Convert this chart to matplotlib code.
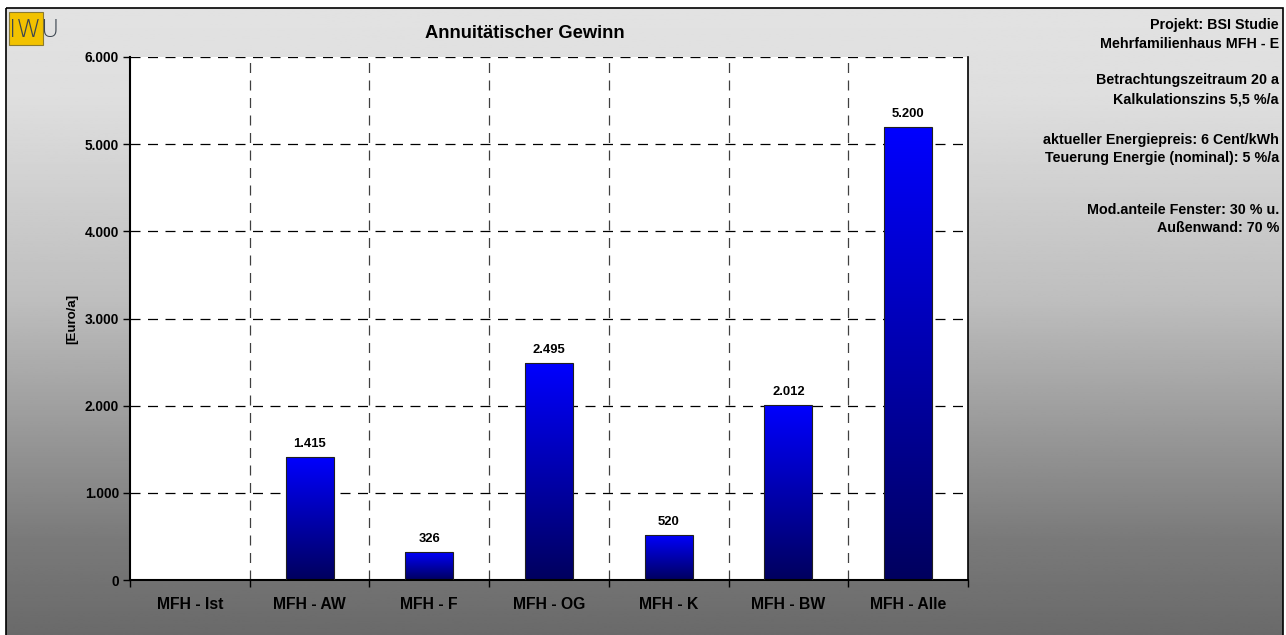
import numpy as np
import matplotlib
matplotlib.use("Agg")
import matplotlib.pyplot as plt
from matplotlib.patches import Rectangle
from matplotlib.colors import LinearSegmentedColormap

categories = ["MFH - Ist", "MFH - AW", "MFH - F", "MFH - OG", "MFH - K", "MFH - BW", "MFH - Alle"]
values = [0, 1415, 326, 2495, 520, 2012, 5200]
yticks = [0, 1000, 2000, 3000, 4000, 5000, 6000]
info_lines = [
    ("Projekt: BSI Studie", 25),
    ("Mehrfamilienhaus MFH - E", 44),
    ("Betrachtungszeitraum 20 a", 80),
    ("Kalkulationszins 5,5 %/a", 99),
    ("aktueller Energiepreis: 6 Cent/kWh", 140),
    ("Teuerung Energie (nominal): 5 %/a", 158),
    ("Mod.anteile Fenster: 30 % u.", 210),
    ("Außenwand: 70 %", 228),
]

plt.rcParams['font.family'] = ['Liberation Sans', 'DejaVu Sans']

W, H = 1286, 635
fig = plt.figure(figsize=(W / 100, H / 100), dpi=100)
fig.patch.set_facecolor("white")

# background gradient inside the frame
bg = fig.add_axes([0, 0, 1, 1], zorder=0)
bg.set_xlim(0, W)
bg.set_ylim(H, 0)
bg.axis("off")
ys = np.linspace(8, H, 300)
stops_y = [8, 100, 300, 540, 635]
stops_v = [226, 222, 190, 122, 106]
grey = np.interp(ys, stops_y, stops_v) / 255.0
grad = np.repeat(grey[:, None], 2, axis=1)
bg.imshow(grad, cmap="gray", vmin=0, vmax=1, extent=(6, 1283, H, 8), aspect="auto")
bg.add_patch(Rectangle((6, 8), 1277, H, fill=False, edgecolor="black", lw=1.2))

# IWU logo
bg.add_patch(Rectangle((9, 12), 34, 33, facecolor="#f2c200", edgecolor="#8a7a30", lw=0.8))
bg.text(9.5, 30, "IWU", fontsize=18, color="#3c4650", va="center", ha="left",
        family="DejaVu Sans", fontweight="light")

# title and info text
bg.text(525, 33, "Annuitätischer Gewinn", fontsize=13.2, fontweight="bold", ha="center", va="center")
for txt, yy in info_lines:
    bg.text(1279, yy, txt, fontsize=10.3, fontweight="bold", ha="right", va="center")

# main axes
ax = fig.add_axes([130 / W, 1 - 580 / H, (968 - 130) / W, (580 - 57) / H], zorder=1)
ax.set_facecolor("white")
x = np.arange(len(categories))
bars = ax.bar(x, values, width=0.4, color="none", edgecolor="#202020", lw=0.8, zorder=3)

cmap = LinearSegmentedColormap.from_list("bluegrad", ["#00005e", "#0000ff"])
grad_bar = np.linspace(0, 1, 256)[:, None]
for b in bars:
    if b.get_height() <= 0:
        continue
    x0 = b.get_x()
    im = ax.imshow(grad_bar, cmap=cmap, origin="lower", aspect="auto",
                   extent=(x0, x0 + b.get_width(), 0, b.get_height()), zorder=2)
    im.set_clip_path(b)

for xi, v in zip(x, values):
    if v > 0:
        ax.text(xi, v + 80, f"{v:,.0f}".replace(",", "."), ha="center", va="bottom",
                fontsize=9.4, fontweight="bold")

ax.set_xlim(-0.5, len(categories) - 0.5)
ax.set_ylim(0, 6000)

ax.set_yticks(yticks)
ax.set_yticklabels([f"{v:,.0f}".replace(",", ".") for v in yticks], fontsize=9.9, fontweight="bold")
ax.set_xticks(np.arange(len(categories) + 1) - 0.5)
ax.set_xticklabels([])
ax.set_xticks(x, minor=True)
ax.set_xticklabels(categories, minor=True, fontsize=11.3, fontweight="bold")
ax.tick_params(axis="x", which="minor", length=0, pad=12)
ax.tick_params(axis="x", which="major", length=5, width=1, direction="out")
ax.tick_params(axis="y", length=5, width=1, direction="out", pad=3)

for yv in yticks[1:]:
    ax.axhline(yv, color="black", lw=0.9, ls=(0, (8, 6)), zorder=1)
for xb in np.arange(1, len(categories)) - 0.5:
    ax.axvline(xb, color="#404040", lw=0.9, ls=(0, (8, 6)), zorder=1)

ax.spines["top"].set_visible(False)
ax.spines["left"].set_linewidth(1.5)
ax.spines["bottom"].set_linewidth(1.5)
ax.spines["right"].set_linewidth(1.2)

ax.set_ylabel("[Euro/a]", fontsize=9.5, fontweight="bold", va="center")
ax.yaxis.set_label_coords((72 - 130) / (968 - 130), 0.5)

fig.savefig("out.png", dpi=100)
